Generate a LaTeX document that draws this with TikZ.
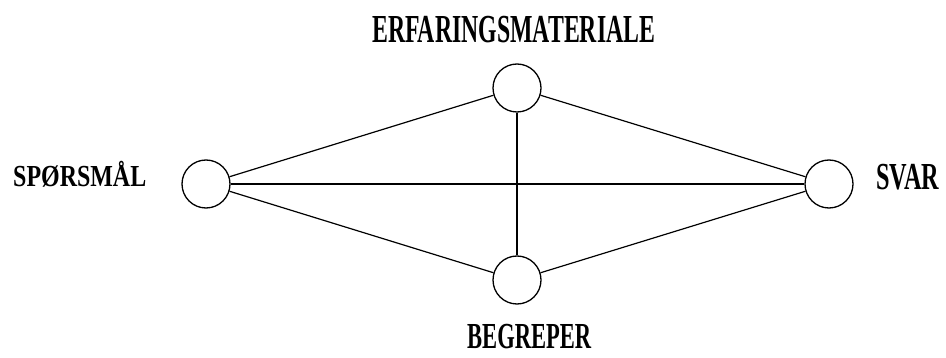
\documentclass[tikz,border=0pt]{standalone}
\usepackage{fontspec}
\setmainfont{Liberation Serif}
\usepackage{graphicx}
\newcommand{\capslbl}[3]{\resizebox{#1}{#2}{\bfseries\raisebox{0pt}[\fontcharht\font`E][0pt]{#3}}}
\begin{document}
\begin{tikzpicture}[x=1pt,y=-1pt,
  vtx/.style={circle,draw,line width=1.3pt,minimum size=48pt,inner sep=0pt},
  edge/.style={line width=1.2pt},
  lbl/.style={inner sep=0pt,anchor=south west}]
\useasboundingbox (0,0) rectangle (946,358);
\node[vtx] (L) at (206,184) {};
\node[vtx] (R) at (829,184) {};
\node[vtx] (T) at (517,88) {};
\node[vtx] (B) at (517,280) {};
\draw[edge] (L) -- (T);
\draw[edge] (L) -- (R);
\draw[edge] (L) -- (B);
\draw[edge] (T) -- (R);
\draw[edge] (T) -- (B);
\draw[edge] (B) -- (R);
\node[lbl] (tE) at (372,43) {\capslbl{283pt}{26pt}{ERFARINGSMATERIALE}};
\node[lbl] (tS) at (13,187) {\capslbl{133pt}{20pt}{SPØRSMÅL}};
\node[lbl] (tV) at (876,190) {\capslbl{63pt}{25pt}{SVAR}};
\node[lbl] (tB) at (467,349) {\capslbl{124pt}{24pt}{BEGREPER}};
\end{tikzpicture}
\end{document}
